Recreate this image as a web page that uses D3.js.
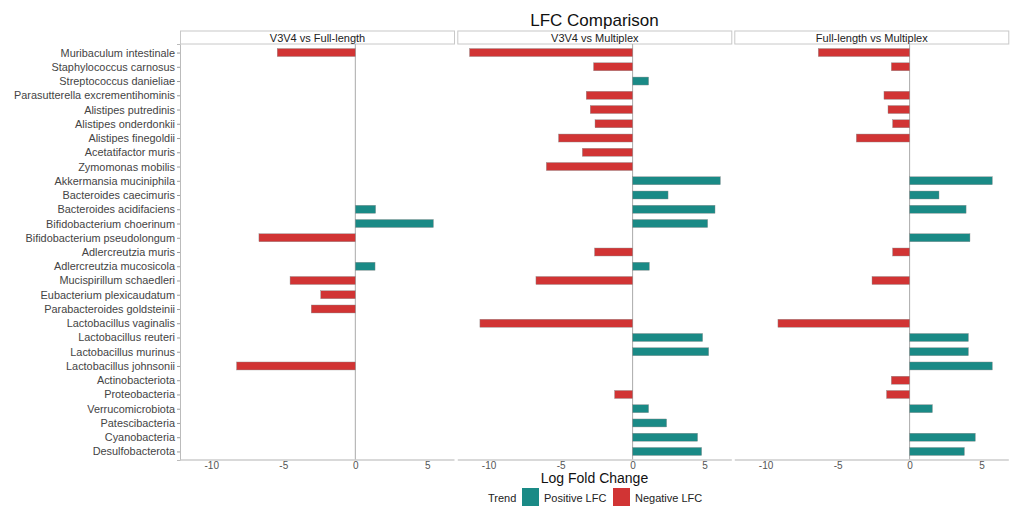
<!DOCTYPE html>
<html>
<head>
<meta charset="utf-8">
<script src="https://cdn.jsdelivr.net/npm/d3@7"></script>
<style>
  html, body { margin: 0; padding: 0; background: #fff; }
  svg { display: block; font-family: "Liberation Sans", Arial, sans-serif; }
</style>
</head>
<body>
<svg id="chart" width="1013" height="506"></svg>
<script>
const categories = [
  "Muribaculum intestinale", "Staphylococcus carnosus", "Streptococcus danieliae",
  "Parasutterella excrementihominis", "Alistipes putredinis", "Alistipes onderdonkii",
  "Alistipes finegoldii", "Acetatifactor muris", "Zymomonas mobilis",
  "Akkermansia muciniphila", "Bacteroides caecimuris", "Bacteroides acidifaciens",
  "Bifidobacterium choerinum", "Bifidobacterium pseudolongum", "Adlercreutzia muris",
  "Adlercreutzia mucosicola", "Mucispirillum schaedleri", "Eubacterium plexicaudatum",
  "Parabacteroides goldsteinii", "Lactobacillus vaginalis", "Lactobacillus reuteri",
  "Lactobacillus murinus", "Lactobacillus johnsonii", "Actinobacteriota",
  "Proteobacteria", "Verrucomicrobiota", "Patescibacteria", "Cyanobacteria",
  "Desulfobacterota"
];

const panels = ["V3V4 vs Full-length", "V3V4 vs Multiplex", "Full-length vs Multiplex"];

// LFC values (null = not present)
const v3v4VsFull = [
  -5.42, null, null, null, null, null, null, null, null,
  null, null, 1.41, 5.42, -6.69, null, 1.37, -4.53, -2.40,
  -3.06, null, null, null, -8.24, null, null, null, null, null, null
];
const v3v4VsMultiplex = [
  -11.32, -2.71, 1.11, -3.22, -2.94, -2.61, -5.14, -3.49, -5.99,
  6.09, 2.46, 5.72, 5.21, null, -2.64, 1.16, -6.71, null,
  null, -10.6, 4.86, 5.28, null, null, -1.25, 1.11, 2.36, 4.51, 4.79
];
const fullVsMultiplex = [
  -6.34, -1.27, null, -1.78, -1.5, -1.18, -3.70, null, null,
  5.74, 2.04, 3.92, null, 4.19, -1.18, null, -2.61, null,
  null, -9.14, 4.08, 4.08, 5.74, -1.27, -1.60, 1.58, null, 4.56, 3.80
];
const seriesValues = [v3v4VsFull, v3v4VsMultiplex, fullVsMultiplex];

const xTicks = [-10, -5, 0, 5];
const trendLabels = ["Positive LFC", "Negative LFC"];
const trendColors = ["#1a8a86", "#d13434"];

const svg = d3.select("#chart");

const plotTop = 44, plotBottom = 460;
const panelLefts = [180, 457.3, 734.3];
const panelWidth = 275;

const x = d3.scaleLinear().domain([-12.17, 6.92]).range([0, panelWidth]);
const y = d3.scalePoint().domain(categories).range([plotTop, plotBottom]).padding(0.6);
const barH = y.step() * 0.56;
const color = d3.scaleOrdinal().domain(trendLabels).range(trendColors);

// Title
svg.append("text")
  .attr("x", 594.5).attr("y", 26)
  .attr("text-anchor", "middle")
  .attr("font-size", 17)
  .attr("fill", "#111")
  .text("LFC Comparison");

// Y axis labels (left panel)
const yAxis = d3.axisLeft(y).tickSize(3).tickPadding(2);
const yg = svg.append("g").attr("transform", `translate(${panelLefts[0]},0)`).call(yAxis);
yg.select(".domain").attr("stroke", "#bbb");
yg.selectAll(".tick line").attr("stroke", "#999");
yg.selectAll(".tick text").attr("font-size", 10.9).attr("fill", "#444")
  .attr("font-family", "Liberation Sans, Arial, sans-serif");

panels.forEach((name, i) => {
  const g = svg.append("g").attr("transform", `translate(${panelLefts[i]},0)`);

  // strip
  g.append("rect")
    .attr("x", 0.5).attr("y", 31)
    .attr("width", panelWidth - 1).attr("height", plotTop - 31)
    .attr("fill", "#fff").attr("stroke", "#c8c8c8").attr("stroke-width", 1);
  g.append("text")
    .attr("x", panelWidth / 2).attr("y", 41.5)
    .attr("text-anchor", "middle")
    .attr("font-size", 11).attr("fill", "#222")
    .text(name);

  // zero line
  g.append("line")
    .attr("x1", x(0)).attr("x2", x(0))
    .attr("y1", plotTop).attr("y2", plotBottom)
    .attr("stroke", "#aaa").attr("stroke-width", 1);

  // bars
  const data = categories.map((c, j) => ({ c, v: seriesValues[i][j] })).filter(d => d.v !== null);
  g.selectAll("rect.bar").data(data).enter().append("rect")
    .attr("class", "bar")
    .attr("x", d => x(Math.min(0, d.v)))
    .attr("width", d => Math.abs(x(d.v) - x(0)))
    .attr("y", d => y(d.c) - barH / 2)
    .attr("height", barH)
    .attr("fill", d => color(d.v >= 0 ? trendLabels[0] : trendLabels[1]))
    .attr("stroke", "#8c8c8c").attr("stroke-width", 0.4);

  // x axis
  const xAxis = d3.axisBottom(x).tickValues(xTicks).tickSize(0).tickPadding(2)
    .tickFormat(d => d < 0 ? "-" + Math.abs(d) : String(d));
  const xg = g.append("g").attr("transform", `translate(0,${plotBottom})`).call(xAxis);
  xg.select(".domain").attr("stroke", "#ccc").attr("stroke-width", 1.5)
    .attr("d", `M0.5,0H${panelWidth - 0.5}`);
  xg.selectAll(".tick text").attr("font-size", 10).attr("fill", "#555")
    .attr("font-family", "Liberation Sans, Arial, sans-serif");
});

// X axis title
svg.append("text")
  .attr("x", 594.5).attr("y", 483)
  .attr("text-anchor", "middle")
  .attr("font-size", 14).attr("fill", "#111")
  .text("Log Fold Change");

// Legend
const lg = svg.append("g");
lg.append("text").attr("x", 488).attr("y", 502).attr("font-size", 11).attr("fill", "#222").text("Trend");
const items = [
  { label: trendLabels[0], x: 522 },
  { label: trendLabels[1], x: 613 }
];
items.forEach(it => {
  lg.append("rect").attr("x", it.x).attr("y", 488).attr("width", 17).attr("height", 18)
    .attr("fill", color(it.label));
  lg.append("text").attr("x", it.x + 22).attr("y", 502).attr("font-size", 11).attr("fill", "#222").text(it.label);
});
</script>
</body>
</html>
